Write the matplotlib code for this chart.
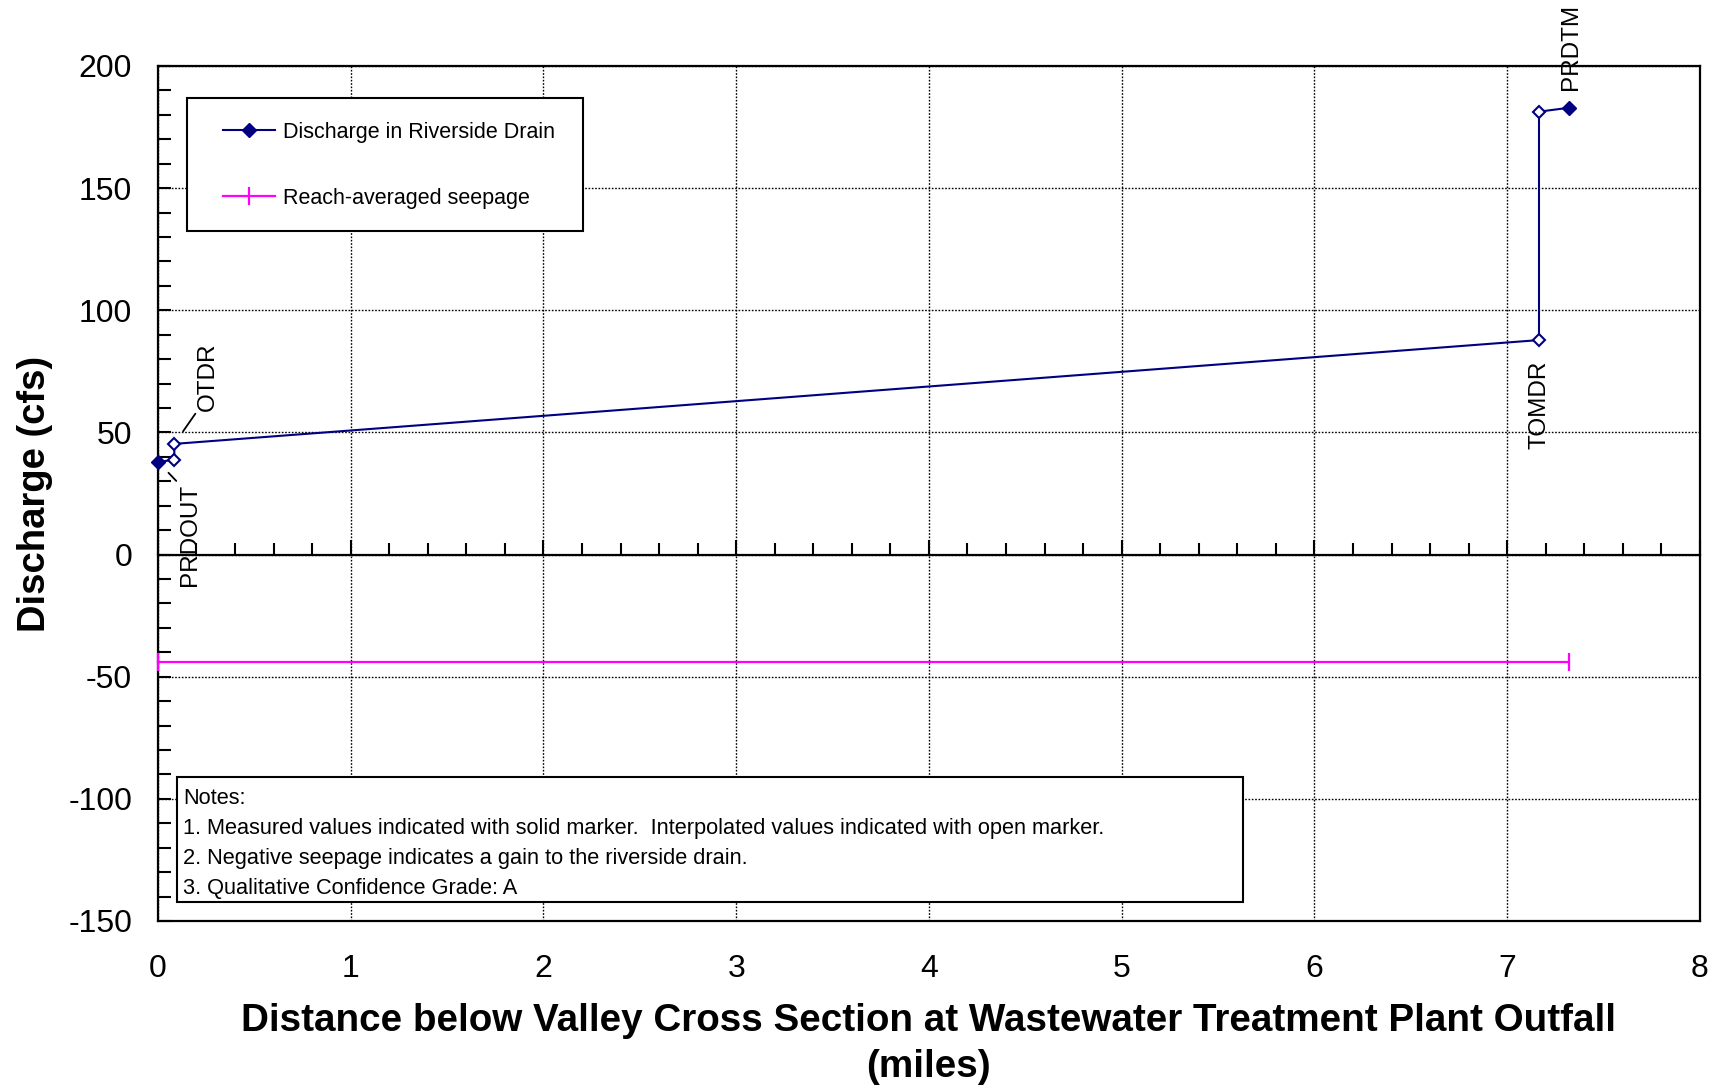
import matplotlib
matplotlib.use('Agg')
import matplotlib.pyplot as plt
from matplotlib.patches import Rectangle
from matplotlib.lines import Line2D
from matplotlib.ticker import MultipleLocator

plt.rcParams['font.family'] = ['Liberation Sans', 'DejaVu Sans']
plt.rcParams['axes.unicode_minus'] = False

# discharge along the riverside drain (miles, cfs)
drain_miles = [0.0, 0.085, 0.085, 7.165, 7.165, 7.32]
drain_cfs = [38.0, 38.7, 45.3, 87.8, 181.3, 182.9]
drain_measured = [True, False, False, False, False, True]

# reach-averaged seepage
seep_miles = [0.0, 7.32]
seep_cfs = [-43.8, -43.8]

# site labels: (index into drain arrays, text, offset px, vertical align, leader line)
site_labels = [
    (0, 'PRDOUT', (32, -22), 'top', True),
    (2, 'OTDR', (34, 33), 'bottom', True),
    (3, 'TOMDR', (1, -21), 'top', False),
    (5, 'PRDTM', (2, 18), 'bottom', False),
]

notes = [
    'Notes:',
    '1. Measured values indicated with solid marker.  Interpolated values indicated with open marker.',
    '2. Negative seepage indicates a gain to the riverside drain.',
    '3. Qualitative Confidence Grade: A',
]

navy = '#000080'
magenta = '#FF00FF'

fig = plt.figure(figsize=(17.26, 10.89), dpi=100)
ax = fig.add_axes([0.0915, 0.1543, 0.8934, 0.7851])

ax.plot(drain_miles, drain_cfs, color=navy, lw=1.5, zorder=3)
for x, y, solid in zip(drain_miles, drain_cfs, drain_measured):
    if solid:
        ax.plot(x, y, marker='D', ms=7.2, color=navy, zorder=4, clip_on=False)
    else:
        ax.plot(x, y, marker='D', ms=6.4, mfc='white', mec=navy, mew=1.5, zorder=4, clip_on=False)

ax.plot(seep_miles, seep_cfs, color=magenta, lw=1.6, marker='|', ms=13, mew=1.6, zorder=3, clip_on=False)

for i, txt, off, va, leader in site_labels:
    props = None
    if leader:
        rel = (0, 0) if va == 'bottom' else (0, 1)
        props = dict(arrowstyle='-', color='black', lw=1.3, shrinkA=0, shrinkB=11, relpos=rel)
    ax.annotate(txt, xy=(drain_miles[i], drain_cfs[i]), xytext=off, textcoords='offset pixels',
                rotation=90, ha='center', va=va, fontsize=17.5, arrowprops=props, zorder=5)

ax.set_xlim(0, 8)
ax.set_ylim(-150, 200)
ax.xaxis.set_major_locator(MultipleLocator(1))
ax.yaxis.set_major_locator(MultipleLocator(50))
ax.yaxis.set_minor_locator(MultipleLocator(10))
ax.tick_params(axis='x', length=0, pad=24, labelsize=23)
ax.tick_params(axis='y', which='both', direction='in', length=9, width=1.5, labelsize=23, pad=18.5)
ax.grid(True, which='major', color='black', lw=1.0, ls=(0, (1.2, 1.2)))
for sp in ax.spines.values():
    sp.set_linewidth(1.6)

# zero line carrying the distance ticks
zero_axis = ax.secondary_xaxis(150 / 350)
zero_axis.spines['bottom'].set_linewidth(1.6)
zero_axis.xaxis.set_major_locator(MultipleLocator(1))
zero_axis.xaxis.set_minor_locator(MultipleLocator(0.2))
zero_axis.tick_params(which='both', direction='in', labelbottom=False, width=1.5)
zero_axis.tick_params(which='major', length=11)
zero_axis.tick_params(which='minor', length=9)

ax.set_ylabel('Discharge (cfs)', fontsize=27.5, fontweight='bold')
ax.yaxis.set_label_coords(-0.068, 0.5)
ax.set_xlabel('Distance below Valley Cross Section at Wastewater Treatment Plant Outfall\n(miles)',
              fontsize=27.8, fontweight='bold', linespacing=1.36)
ax.xaxis.set_label_coords(0.5, -0.096)

# legend box drawn separately so the padding can be set freely
ax.add_patch(Rectangle((0.0188, 0.807), 0.2568, 0.1556, transform=ax.transAxes,
                       facecolor='white', edgecolor='black', lw=1.5, zorder=6))
handles = [
    Line2D([], [], color=navy, lw=1.5, marker='D', ms=7.2),
    Line2D([], [], color=magenta, lw=1.6, marker='|', ms=13, mew=1.6),
]
leg = ax.legend(handles, ['Discharge in Riverside Drain', 'Reach-averaged seepage'],
                loc='upper left', bbox_to_anchor=(0.0425, 0.935), borderaxespad=0,
                fontsize=15.5, frameon=False, borderpad=0,
                handlelength=2.4, handletextpad=0.35, labelspacing=2.1)
leg.set_zorder(7)

ax.add_patch(Rectangle((0.0123, 0.0222), 0.6913, 0.1462, transform=ax.transAxes,
                       facecolor='white', edgecolor='black', lw=1.5, zorder=6))
for k, line in enumerate(notes):
    ax.text(0.0162, 0.1437 - k * 0.0353, line, transform=ax.transAxes, fontsize=15.7,
            ha='left', va='center', zorder=7)

fig.savefig('out.png', dpi=100)
